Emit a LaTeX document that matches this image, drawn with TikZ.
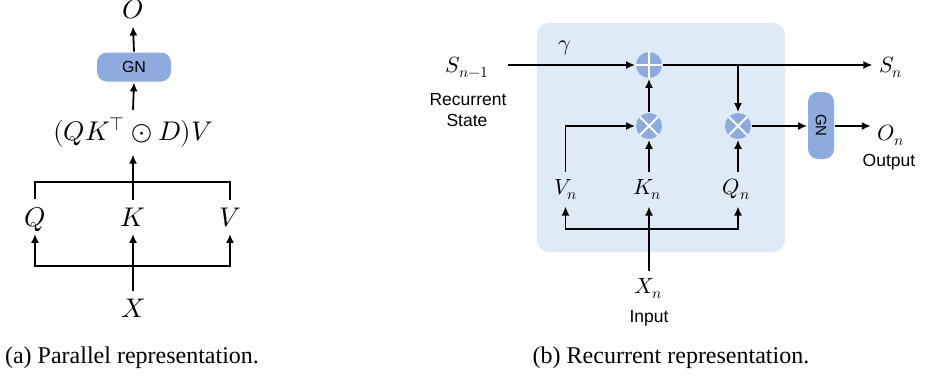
\documentclass[tikz,border=0pt]{standalone}
\usepackage{fontspec}
\usepackage{unicode-math}
\setmainfont{Liberation Serif}
\setsansfont{Liberation Sans}
\setmathfont{Latin Modern Math}
\usetikzlibrary{arrows.meta,calc}
\definecolor{gnblue}{RGB}{143,170,220}
\definecolor{bgblue}{RGB}{222,234,246}
\begin{document}
\begin{tikzpicture}[x=1pt,y=-1pt, line width=1.8pt,
  >={Latex[length=9pt,width=8pt]},
  mathL/.style={anchor=base, inner sep=7pt, font=\fontsize{27}{32}\selectfont},
  mathR/.style={anchor=base, inner sep=6pt, font=\fontsize{22}{26}\selectfont},
  sanslbl/.style={anchor=base, inner sep=0pt, font=\sffamily\fontsize{17.5}{21}\selectfont},
  caplbl/.style={anchor=base, inner sep=0pt, font=\rmfamily\fontsize{24}{28}\selectfont},
  gnbox/.style={fill=gnblue, draw=none, rounded corners=10pt, inner sep=0pt},
  opcirc/.style={circle, fill=gnblue, draw=none, minimum size=26pt, inner sep=0pt},
  opplus/.style={opcirc, path picture={\draw[white,line width=2pt]
     (path picture bounding box.north) -- (path picture bounding box.south)
     (path picture bounding box.west) -- (path picture bounding box.east);}},
  optimes/.style={opcirc, path picture={\draw[white,line width=2pt]
     (path picture bounding box.north west) -- (path picture bounding box.south east)
     (path picture bounding box.south west) -- (path picture bounding box.north east);}}
]
\useasboundingbox (0,0) rectangle (942,375);

% ---------- (a) parallel ----------
\node[mathL] (O) at (133,18) {$O$};
\node[gnbox, minimum width=74pt, minimum height=29pt, font=\sffamily\fontsize{16}{19}\selectfont] (GN) at (134,67) {GN};
\node[mathL] (F) at (133,140) {$(QK^{\intercal}\odot D)V$};
\node[mathL] (Q) at (35,226) {$Q$};
\node[mathL] (K) at (133,226) {$K$};
\node[mathL] (V) at (230,226) {$V$};
\node[mathL] (X) at (133,317) {$X$};
\coordinate (tb) at (133,182);
\coordinate (bb) at (133,266);

\draw[->] (GN.north) -- (O.south);
\draw[->] (F.north) -- (GN.south);
\draw[->] (K.north) -- (F.south);
\draw (Q.north) |- (tb) -| (V.north);
\draw[->] (bb) -| (Q.south |- K.south);
\draw[->] (bb) -| (V.south |- K.south);
\draw[->] (X.north) -- (K.south);

\node[caplbl] (capa) at (132,363) {(a) Parallel representation.};

% ---------- (b) recurrent ----------
\fill[bgblue, rounded corners=12pt] (537,23) rectangle (785,252);

\node[mathR] (gam) at (565,50) {$\gamma$};
\node[mathR] (Sm) at (467,72) {$S_{n-1}$};
\node[sanslbl] (rec) at (468,105) {Recurrent};
\node[sanslbl] (st) at (467,126) {State};
\node[opplus] (P) at (649,65) {};
\node[optimes] (T1) at (649,126) {};
\node[optimes] (T2) at (738,126) {};
\node[mathR] (Sn) at (891,72) {$S_n$};
\node[gnbox, minimum width=26pt, minimum height=67pt, font=\sffamily\fontsize{15}{18}\selectfont] (G2) at (821,125.5) {\rotatebox{-90}{GN}};
\node[mathR] (On) at (891,140) {$O_n$};
\node[sanslbl] (out) at (889,166) {Output};
\node[mathR] (Vn) at (565.5,194) {$V_n$};
\node[mathR] (Kn) at (647.5,194) {$K_n$};
\node[mathR] (Qn) at (736.5,194) {$Q_n$};
\node[mathR] (Xn) at (648.5,293) {$X_n$};
\node[sanslbl] (inp) at (649,322) {Input};

\coordinate (sstart) at ($(Sm.east |- P)+(13,0)$);
\coordinate (br) at (P -| T2);
\coordinate (rb) at (649,229);

\draw[->] (sstart) -- (P.west);
\draw[->] (P.east) -- (Sn.west |- P);
\draw[->] (br) -- (T2.north);
\draw[->] (T1) -- (P);
\draw[->] (Vn.north) |- (T1.west);
\draw[->] (Kn.north -| T1) -- (T1.south);
\draw[->] (Qn.north -| T2) -- (T2.south);
\draw[->] (T2.east) -- (T2.east -| G2.west);
\draw[->] (G2.east |- T2) -- (On.west |- T2);
\draw[->] (rb) -| (Vn.south);
\draw[->] (rb) -| (T2 |- Kn.south);
\draw[->] (Xn.north -| T1) -- (Kn.south -| T1);

\node[caplbl] (capb) at (671,363) {(b) Recurrent representation.};
\end{tikzpicture}
\end{document}
